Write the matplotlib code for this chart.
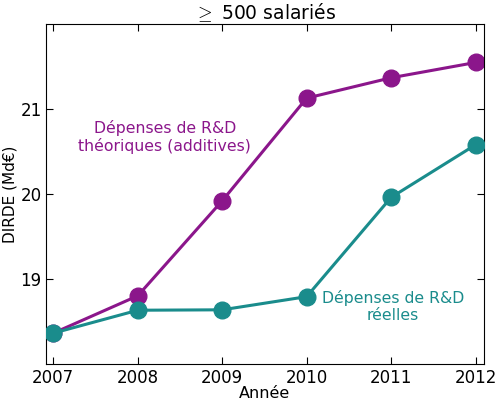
import matplotlib
matplotlib.use("Agg")
import matplotlib.pyplot as plt

years = [2007, 2008, 2009, 2010, 2011, 2012]
theoretical = [18.36, 18.80, 19.92, 21.13, 21.37, 21.55]
real = [18.36, 18.63, 18.635, 18.79, 19.96, 20.58]
xticks = [2007, 2008, 2009, 2010, 2011, 2012]
yticks = [19, 20, 21]

purple = '#8b168b'
teal = '#1a8c8c'

plt.rcParams['font.family'] = ['DejaVu Sans']
plt.rcParams['mathtext.fontset'] = 'cm'
fig = plt.figure(figsize=(5.0, 4.04), dpi=100)
ax = fig.add_axes([0.0914, 0.0998, 0.8766, 0.840])

ax.plot(years, theoretical, '-o', color=purple, lw=2.2, ms=12, zorder=2)
ax.plot(years, real, '-o', color=teal, lw=2.2, ms=12, zorder=3)

ax.set_xlim(2006.91, 2012.1)
ax.set_ylim(18.0, 22.0)
ax.set_xticks(xticks)
ax.set_xticklabels([str(x) for x in xticks])
ax.set_yticks(yticks)
ax.tick_params(direction='in', top=True, right=True, labelsize=12, length=5)
ax.tick_params(axis='y', pad=3)
ax.tick_params(axis='x', pad=4)
ax.set_xlabel('Année', fontsize=11.5, labelpad=-1)
ax.set_ylabel('DIRDE (Md€)', fontsize=11, labelpad=2)
ax.set_title(r'$\geq$ 500 salariés', fontsize=13.5, pad=4)

ax.text(2008.32, 20.67, 'Dépenses de R&D\nthéoriques (additives)', color=purple,
        fontsize=11.3, ha='center', va='center', linespacing=1.15)
ax.text(2011.02, 18.67, 'Dépenses de R&D\nréelles', color=teal,
        fontsize=11.3, ha='center', va='center', linespacing=1.15)

fig.savefig('out.png', dpi=100)
